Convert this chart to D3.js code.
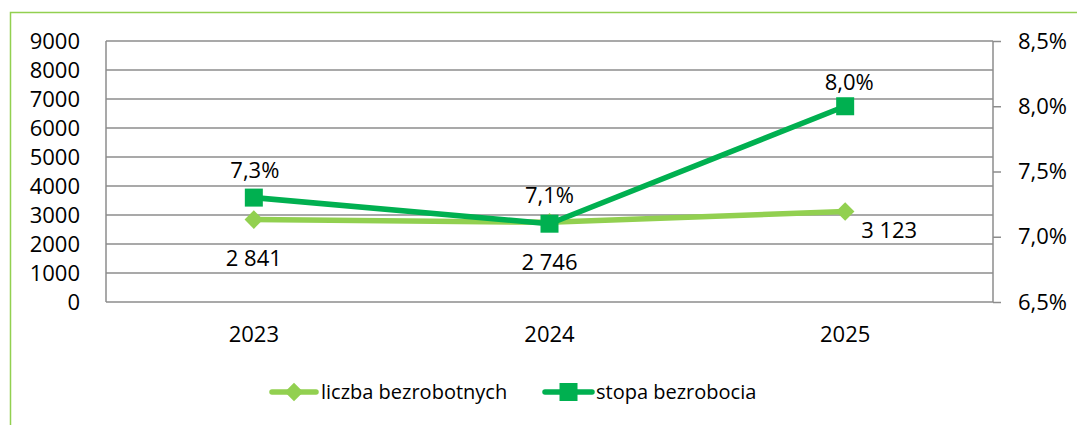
<!DOCTYPE html>
<html><head><meta charset="utf-8">
<script src="https://cdn.jsdelivr.net/npm/d3@7"></script>
<style>
body{margin:0;background:#fff;}
svg{display:block;font-family:"Open Sans","Noto Sans",sans-serif;}
</style></head>
<body><svg id="c" width="1077" height="425"></svg>
<script>
const categories = ["2023", "2024", "2025"];
const unemployed = [2841, 2746, 3123];
const unemployedLabels = ["2 841", "2 746", "3 123"];
const rate = [7.3, 7.1, 8.0];
const rateLabels = ["7,3%", "7,1%", "8,0%"];
const leftTicks = [0, 1000, 2000, 3000, 4000, 5000, 6000, 7000, 8000, 9000];
const rightTicks = [6.5, 7.0, 7.5, 8.0, 8.5];
const seriesNames = ["liczba bezrobotnych", "stopa bezrobocia"];

const svg = d3.select("#c");
const light = "#92d050", dark = "#00b050", grid = "#8c8c8c";
const L = 106, R = 993, T = 41, B = 302;
const FS = 22;

// outer frame
svg.append("path").attr("d", `M10.5,425 L10.5,12.5 L1077,12.5`)
  .attr("fill", "none").attr("stroke", light).attr("stroke-width", 1.5);

const x = d3.scaleBand().domain(categories).range([L, R]);
const yL = d3.scaleLinear().domain([0, 9000]).range([B, T]);
const yR = d3.scaleLinear().domain([6.5, 8.5]).range([B, T]);

// gridlines
svg.append("g").selectAll("line").data(leftTicks).join("line")
  .attr("x1", L).attr("x2", R).attr("y1", d => yL(d)).attr("y2", d => yL(d))
  .attr("stroke", grid).attr("stroke-width", 1.5);

// axes lines
svg.append("line").attr("x1", L).attr("x2", L).attr("y1", T).attr("y2", B).attr("stroke", grid).attr("stroke-width", 1.5);
svg.append("line").attr("x1", R).attr("x2", R).attr("y1", T).attr("y2", B).attr("stroke", grid).attr("stroke-width", 1.5);

// left axis labels
const gl = svg.append("g").attr("transform", `translate(${L},0)`)
  .call(d3.axisLeft(yL).tickValues(leftTicks).tickSize(0).tickPadding(26).tickFormat(d3.format("d")));
gl.select(".domain").remove();
gl.selectAll("text").attr("font-size", FS).attr("font-family", "Open Sans").attr("fill", "#000");

// right axis
const gr = svg.append("g").attr("transform", `translate(${R},0)`)
  .call(d3.axisRight(yR).tickValues(rightTicks).tickSize(8).tickPadding(17).tickFormat(d => d3.format(".1f")(d).replace(".", ",") + "%"));
gr.select(".domain").remove();
gr.selectAll("line").attr("stroke", grid).attr("stroke-width", 1.5);
gr.selectAll("text").attr("font-size", FS).attr("font-family", "Open Sans").attr("fill", "#000");

// bottom axis labels
const gb = svg.append("g").attr("transform", `translate(0,${B})`)
  .call(d3.axisBottom(x).tickSize(0).tickPadding(24));
gb.select(".domain").remove();
gb.selectAll("text").attr("font-size", FS).attr("font-family", "Open Sans").attr("fill", "#000");

const cx = d => x(d) + x.bandwidth() / 2;

// light line
const line1 = d3.line().x((d, i) => cx(categories[i])).y(d => yL(d));
svg.append("path").datum(unemployed).attr("d", line1).attr("fill", "none")
  .attr("stroke", light).attr("stroke-width", 5.5).attr("stroke-linejoin", "round");
svg.append("g").selectAll("path").data(unemployed).join("path")
  .attr("d", d3.symbol(d3.symbolDiamond2 || d3.symbolDiamond, 220))
  .attr("transform", (d, i) => `translate(${cx(categories[i])},${yL(d)})`)
  .attr("fill", light);

// dark line
const line2 = d3.line().x((d, i) => cx(categories[i])).y(d => yR(d));
svg.append("path").datum(rate).attr("d", line2).attr("fill", "none")
  .attr("stroke", dark).attr("stroke-width", 5.5).attr("stroke-linejoin", "round");
svg.append("g").selectAll("rect").data(rate).join("rect")
  .attr("x", (d, i) => cx(categories[i]) - 9).attr("y", d => yR(d) - 9)
  .attr("width", 18).attr("height", 18).attr("fill", dark);

// data labels
const uOff = [[0, 46], [0, 48], [44, 27]];
svg.append("g").selectAll("text").data(unemployed).join("text")
  .attr("x", (d, i) => cx(categories[i]) + uOff[i][0])
  .attr("y", (d, i) => yL(d) + uOff[i][1])
  .attr("text-anchor", "middle").attr("font-size", FS).attr("font-family", "Open Sans")
  .text((d, i) => unemployedLabels[i]);
const rOff = [[1, -20], [0, -21], [4, -16]];
svg.append("g").selectAll("text").data(rate).join("text")
  .attr("x", (d, i) => cx(categories[i]) + rOff[i][0])
  .attr("y", (d, i) => yR(d) + rOff[i][1])
  .attr("text-anchor", "middle").attr("font-size", FS).attr("font-family", "Open Sans")
  .text((d, i) => rateLabels[i]);

// legend
const lg = svg.append("g");
const items = [{x0: 272, x1: 316, tx: 321, c: light, m: "diamond"}, {x0: 545, x1: 592, tx: 596, c: dark, m: "square"}];
items.forEach((it, i) => {
  const yy = 392;
  lg.append("line").attr("x1", it.x0).attr("x2", it.x1).attr("y1", yy).attr("y2", yy)
    .attr("stroke", it.c).attr("stroke-width", 5.5).attr("stroke-linecap", "round");
  const mx = (it.x0 + it.x1) / 2;
  if (it.m === "diamond") {
    lg.append("path").attr("d", d3.symbol(d3.symbolDiamond2 || d3.symbolDiamond, 220)).attr("transform", `translate(${mx},${yy})`).attr("fill", it.c);
  } else {
    lg.append("rect").attr("x", mx - 9).attr("y", yy - 9).attr("width", 18).attr("height", 18).attr("fill", it.c);
  }
  lg.append("text").attr("x", it.tx).attr("y", yy + 7).attr("font-size", 20).attr("font-family", "Open Sans").text(seriesNames[i]);
});
</script></body></html>
